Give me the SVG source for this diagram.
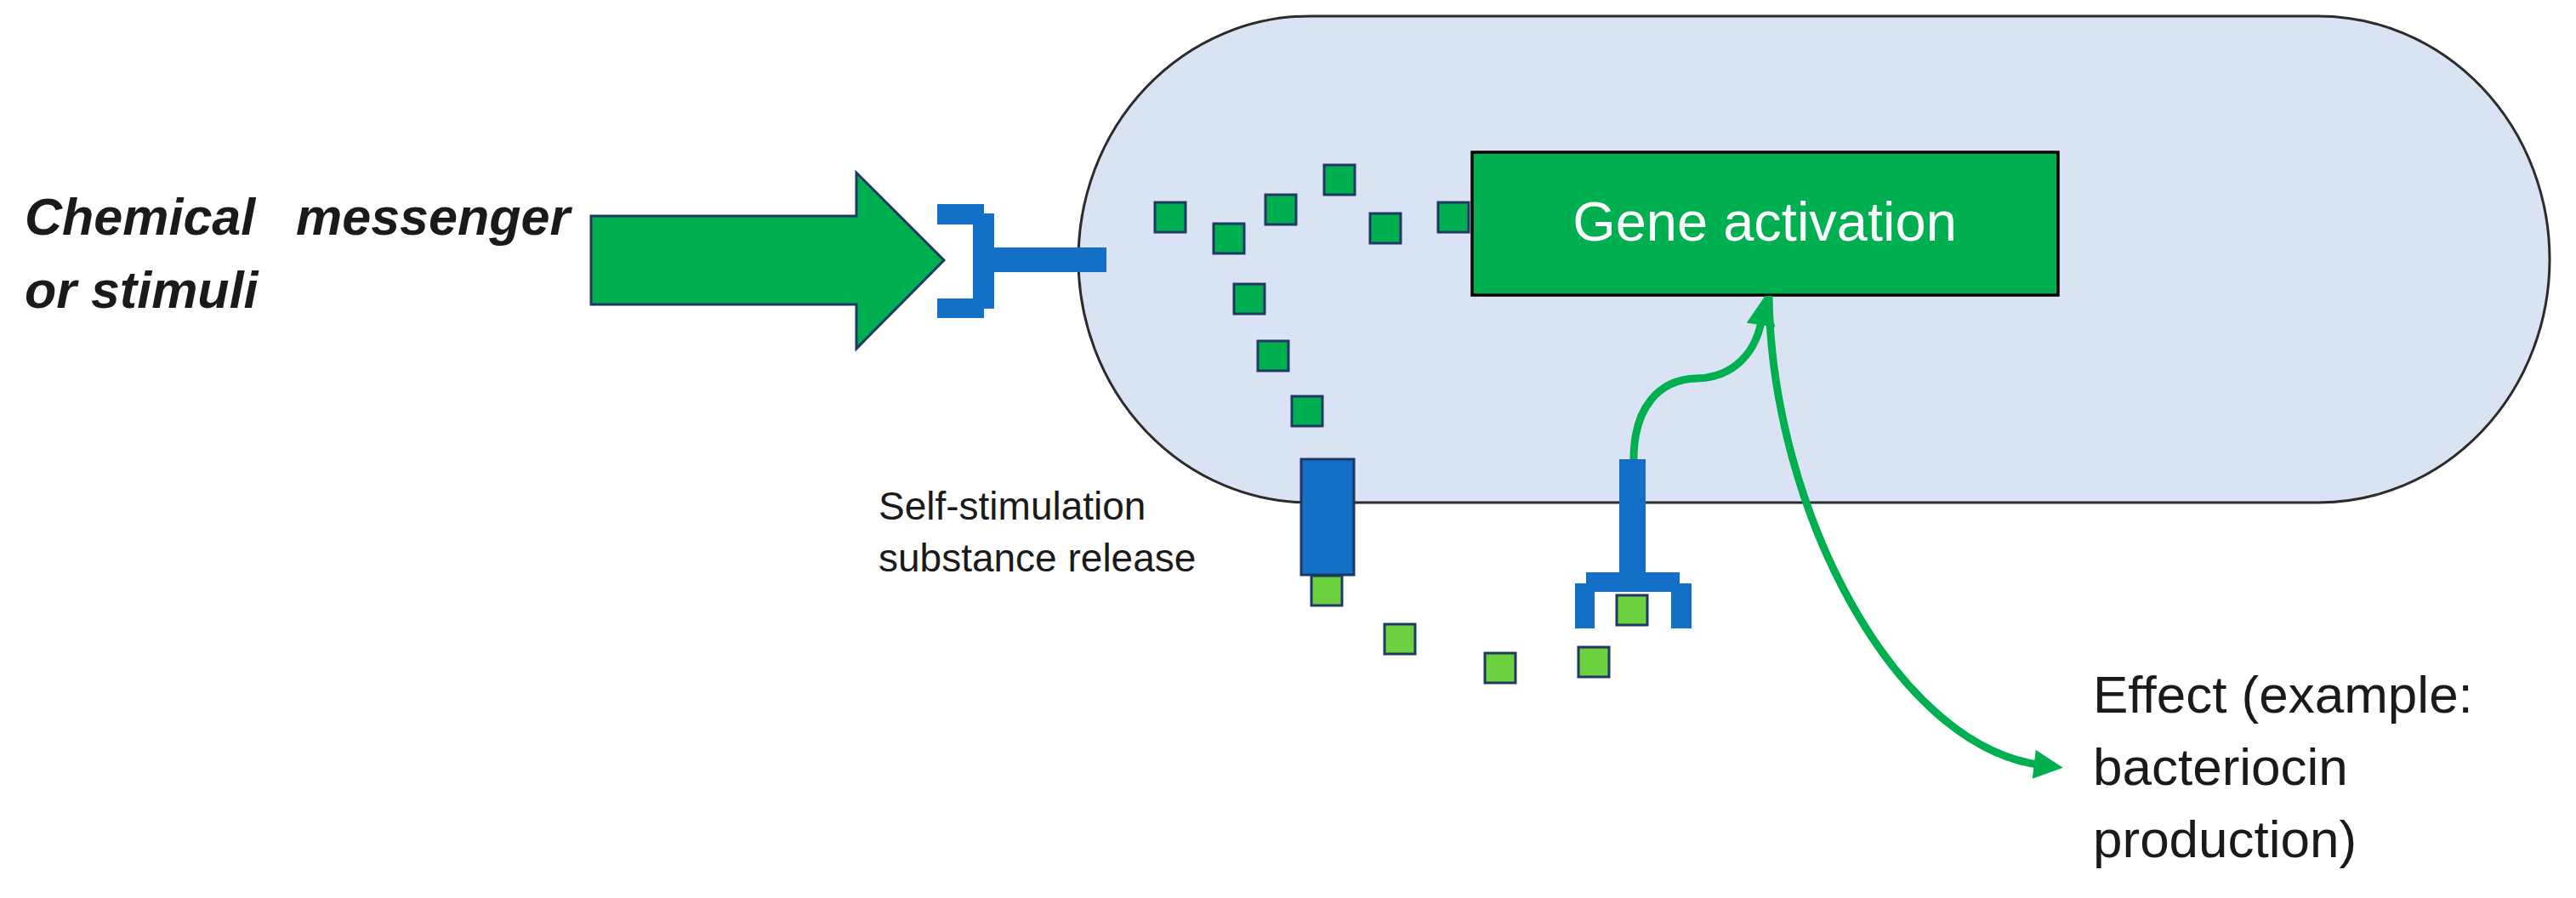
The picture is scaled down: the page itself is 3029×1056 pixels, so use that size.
<svg xmlns="http://www.w3.org/2000/svg" width="3029" height="1056" viewBox="0 0 3029 1056">
<style>
.cell{fill:#dae3f3;stroke:#2b2b2b;stroke-width:3}
.mol{fill:#00b050;stroke:#1f3864;stroke-width:3}
.mol2{fill:#6cd13f;stroke:#1f3864;stroke-width:3}
.blue{fill:#1470c6}
.conn{fill:none;stroke:#00b050;stroke-width:9;marker-end:url(#ah)}
.lbl{font-family:"Liberation Sans",Arial,sans-serif;fill:#1a1a1a}
</style>
<defs>
<marker id="ah" viewBox="0 0 10 10" refX="3" refY="5" markerWidth="4" markerHeight="3.8" orient="auto" markerUnits="strokeWidth">
<path d="M0,0 L10,5 L0,10 z" fill="#00b050"/>
</marker>
</defs>
<rect width="3029" height="1056" fill="#ffffff"/>

<g id="cell">
<rect class="cell" x="1268" y="19" width="1730" height="572" rx="272" ry="286"/>
</g>

<g id="stimulus-label">
<text class="lbl" font-size="61" font-weight="bold" font-style="italic"><tspan x="29" y="276">Chemical</tspan><tspan x="348" y="276">messenger</tspan><tspan x="29" y="362">or stimuli</tspan></text>
</g>

<g id="stimulus-arrow">
<polygon points="695,254 1007,254 1007,203 1110,306 1007,410 1007,358 695,358" fill="#00b050" stroke="#1f3864" stroke-width="3"/>
</g>

<g id="membrane-receptor">
<polygon class="blue" points="1102,240 1157,240 1157,251 1169,251 1169,363 1157,363 1157,374 1102,374 1102,351 1144,351 1144,264 1102,264"/>
<rect class="blue" x="1168" y="291" width="133" height="29"/>
</g>

<g id="signal-molecules">
<rect class="mol" x="1358" y="238" width="36" height="35"/>
<rect class="mol" x="1427" y="263" width="36" height="35"/>
<rect class="mol" x="1488" y="229" width="36" height="35"/>
<rect class="mol" x="1557" y="194" width="36" height="35"/>
<rect class="mol" x="1611" y="251" width="36" height="35"/>
<rect class="mol" x="1691" y="238" width="36" height="35"/>
<rect class="mol" x="1451" y="334" width="36" height="35"/>
<rect class="mol" x="1479" y="401" width="36" height="35"/>
<rect class="mol" x="1519" y="466" width="36" height="35"/>
</g>

<g id="gene-activation">
<rect x="1731" y="179" width="689" height="168" fill="#00b050" stroke="#000000" stroke-width="3.5"/>
<text x="2075" y="283" font-family="'Liberation Sans',Arial,sans-serif" font-size="65" fill="#ffffff" text-anchor="middle">Gene activation</text>
</g>

<g id="release-channel">
<rect x="1530" y="540" width="62" height="136" fill="#1470c6" stroke="#1f3864" stroke-width="3"/>
</g>

<g id="released-molecules">
<rect class="mol2" x="1542" y="677" width="36" height="35"/>
<rect class="mol2" x="1628" y="734" width="36" height="35"/>
<rect class="mol2" x="1746" y="768" width="36" height="35"/>
<rect class="mol2" x="1856" y="761" width="36" height="35"/>
</g>

<g id="autoinducer-receptor">
<polygon class="blue" points="1904,540 1935,540 1935,673 1975,673 1975,686 1989,686 1989,739 1965,739 1965,696 1875,696 1875,739 1852,739 1852,686 1865,686 1865,673 1904,673"/>
<rect class="mol2" x="1901" y="700" width="36" height="35"/>
</g>

<g id="release-label">
<text class="lbl" font-size="46"><tspan x="1033" y="611">Self-stimulation</tspan><tspan x="1033" y="672">substance release</tspan></text>
</g>

<g id="effect-label">
<text class="lbl" font-size="62"><tspan x="2461" y="838">Effect (example:</tspan><tspan x="2461" y="923">bacteriocin</tspan><tspan x="2461" y="1008">production)</tspan></text>
</g>

<g id="connectors">
<path class="conn" d="M1921,540 C1921,480 1950,446 1995,445 C2038,444 2066,415 2072,372"/>
<path class="conn" d="M2080,348 C2083,600 2230,880 2402,900"/>
</g>
</svg>
